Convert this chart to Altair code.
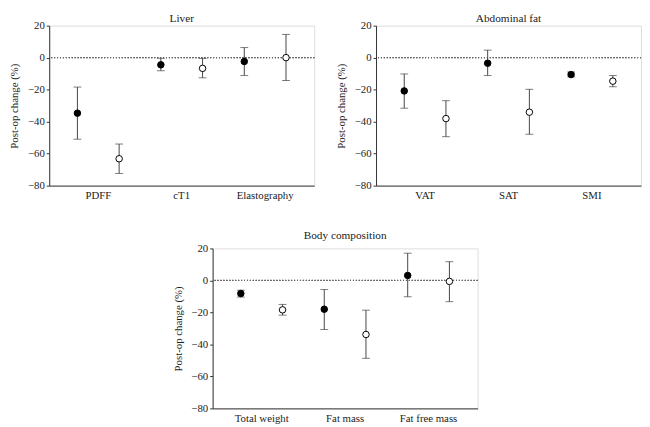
import altair as alt
import pandas as pd

groups = ["A", "B"]  # A = filled, B = open

liver_cats = ["PDFF", "cT1", "Elastography"]
liver_mean_a = [-34.7, -4.5, -2.4]
liver_lo_a = [-51.0, -8.2, -11.2]
liver_hi_a = [-18.4, -0.4, 6.3]
liver_mean_b = [-63.2, -6.7, 0.0]
liver_lo_b = [-72.4, -12.6, -14.3]
liver_hi_b = [-54.0, -0.5, 14.5]

abd_cats = ["VAT", "SAT", "SMI"]
abd_mean_a = [-20.8, -3.5, -10.6]
abd_lo_a = [-31.6, -11.2, -12.0]
abd_hi_a = [-10.2, 4.7, -9.0]
abd_mean_b = [-38.1, -34.1, -14.7]
abd_lo_b = [-49.4, -47.9, -18.2]
abd_hi_b = [-26.9, -19.8, -11.2]

body_cats = ["Total weight", "Fat mass", "Fat free mass"]
body_mean_a = [-8.2, -18.0, 3.1]
body_lo_a = [-10.4, -30.7, -10.2]
body_hi_a = [-6.1, -5.7, 17.0]
body_mean_b = [-18.4, -33.8, -0.6]
body_lo_b = [-21.7, -48.7, -13.3]
body_hi_b = [-15.0, -18.6, 11.7]

panel_titles = ["Liver", "Abdominal fat", "Body composition"]
y_ticks = [-80, -60, -40, -20, 0, 20]
y_title = "Post-op change (%)"
FONT = "Liberation Serif"
W, H = 270, 163


def make_df(cats, ma, la, ha, mb, lb, hb):
    rows = []
    for i, c in enumerate(cats):
        rows.append({"category": c, "group": "A", "mean": ma[i], "lo": la[i], "hi": ha[i]})
        rows.append({"category": c, "group": "B", "mean": mb[i], "lo": lb[i], "hi": hb[i]})
    return pd.DataFrame(rows)


Y_AXIS = alt.Axis(
    title=y_title,
    values=y_ticks,
    grid=False,
    tickSize=3,
    labelPadding=2,
    titlePadding=8,
    titleFontSize=11,
    titleFontWeight="normal",
    labelFontSize=11,
    labelOverlap=False,
)
Y_SCALE = alt.Scale(domain=[-80, 20], nice=False, zero=False)


def Y(field):
    return alt.Y(field, type="quantitative", scale=Y_SCALE, axis=Y_AXIS)


def panel(df, cats, title, title_y):
    base = alt.Chart(df).encode(
        x=alt.X(
            "category:N",
            sort=cats,
            scale=alt.Scale(paddingInner=0, paddingOuter=0.088),
            axis=alt.Axis(title=None, ticks=False, labelAngle=0, labelPadding=4, labelFontSize=11),
        ),
        xOffset=alt.XOffset("group:N", scale=alt.Scale(domain=groups, paddingInner=0, paddingOuter=0)),
    )
    zero = alt.Chart(df).mark_rule(strokeDash=[1, 2], color="#666", strokeWidth=1).encode(
        y=alt.Y(datum=0, type="quantitative", scale=Y_SCALE, axis=Y_AXIS)
    )
    whisk = base.mark_rule(color="#444", strokeWidth=1).encode(y=Y("lo"), y2="hi:Q")
    cap_lo = base.mark_tick(color="#444", size=8, thickness=1).encode(y=Y("lo"))
    cap_hi = base.mark_tick(color="#444", size=8, thickness=1).encode(y=Y("hi"))
    pts = base.mark_point(shape="circle", size=44, stroke="black", strokeWidth=1, opacity=1).encode(
        y=Y("mean"),
        fill=alt.Fill("group:N", scale=alt.Scale(domain=groups, range=["black", "white"]), legend=None),
    )
    ttl = alt.Chart(pd.DataFrame({"t": [title]})).mark_text(
        font=FONT, fontSize=11.5, color="#222", baseline="middle", align="center"
    ).encode(text="t:N", x=alt.value(W / 2), y=alt.value(title_y))
    return alt.layer(zero, whisk, cap_lo, cap_hi, pts, ttl).properties(width=W, height=H)


liver = panel(make_df(liver_cats, liver_mean_a, liver_lo_a, liver_hi_a, liver_mean_b, liver_lo_b, liver_hi_b), liver_cats, panel_titles[0], -7)
abd = panel(make_df(abd_cats, abd_mean_a, abd_lo_a, abd_hi_a, abd_mean_b, abd_lo_b, abd_hi_b), abd_cats, panel_titles[1], -7)
body = panel(make_df(body_cats, body_mean_a, body_lo_a, body_hi_a, body_mean_b, body_lo_b, body_hi_b), body_cats, panel_titles[2], -13)

chart = (
    alt.vconcat(alt.hconcat(liver, abd, spacing=20), body, spacing=28, center=True)
    .properties(padding=0)
    .configure_view(stroke=None)
    .configure(font=FONT)
    .configure_axis(
        domainColor="#333",
        tickColor="#333",
        labelColor="#222",
        titleColor="#222",
        labelFont=FONT,
        titleFont=FONT,
    )
)

chart.save("out.html", embed_options={"renderer": "svg", "actions": False})
